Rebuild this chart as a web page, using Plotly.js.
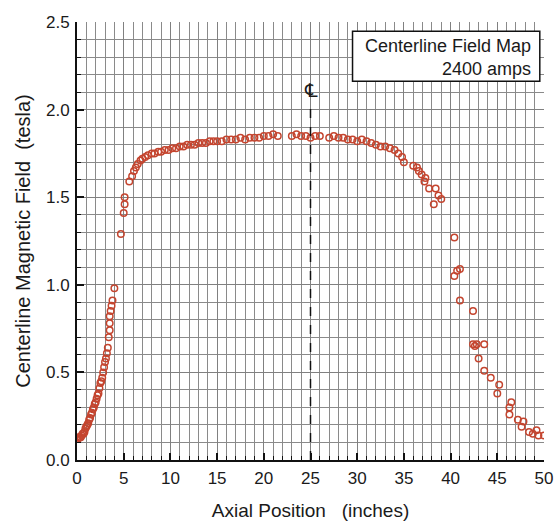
<!DOCTYPE html>
<html>
<head>
<meta charset="utf-8">
<script src="https://cdn.plot.ly/plotly-3.0.1.min.js"></script>
<style>html,body{margin:0;padding:0;background:#fff;}#chart{width:556px;height:524px;}</style>
</head>
<body>
<div id="chart"></div>
<script>
// Axial position (inches)
const axialPosition = [
  0.0,0.1,0.2,0.3,0.4,0.5,0.6,0.7,0.8,0.9,1.0,1.1,1.2,1.3,1.4,1.5,1.6,1.7,1.8,1.9,
  2.0,2.1,2.2,2.3,2.4,2.5,2.6,2.7,2.8,2.9,3.0,3.1,3.2,3.3,3.4,3.5,3.5,3.5,3.6,3.7,3.8,4.0,
  4.7,5.0,5.1,5.1,5.6,5.9,6.1,6.3,6.5,6.8,7.0,7.3,7.6,8.0,8.3,8.7,9.0,9.4,9.8,
  10.2,10.6,11.0,11.4,11.8,12.2,12.6,13.0,13.4,13.8,14.2,14.6,15.0,15.5,16.0,16.5,
  17.0,17.5,18.0,18.5,19.0,19.5,20.0,20.5,21.0,21.5,23.0,23.5,24.0,24.5,25.0,25.5,
  26.0,27.0,27.5,28.0,28.5,29.0,29.5,30.0,30.5,31.0,31.5,32.0,32.5,33.0,33.5,34.0,
  34.4,34.8,35.0,36.0,36.4,36.6,36.9,37.3,37.2,37.7,38.4,38.7,39.0,38.2,
  40.4,40.7,41.0,40.4,41.0,42.4,42.4,42.6,42.8,43.6,43.0,43.6,44.3,45.2,45.0,
  46.5,46.3,46.3,47.2,47.8,47.6,48.4,48.8,49.2,49.4,50.0
];
// Centerline magnetic field (tesla)
const fieldTesla = [
  0.12,0.12,0.13,0.13,0.13,0.14,0.15,0.15,0.16,0.18,0.19,0.20,0.21,0.23,0.24,0.26,0.27,0.29,0.30,0.32,
  0.33,0.35,0.37,0.38,0.41,0.44,0.45,0.47,0.50,0.53,0.56,0.58,0.61,0.64,0.70,0.74,0.78,0.82,0.85,0.88,0.91,0.98,
  1.29,1.41,1.46,1.50,1.59,1.62,1.65,1.67,1.69,1.71,1.72,1.73,1.74,1.75,1.75,1.76,1.76,1.77,1.77,
  1.78,1.78,1.79,1.79,1.80,1.80,1.80,1.81,1.81,1.81,1.82,1.82,1.82,1.82,1.83,1.83,
  1.83,1.84,1.83,1.84,1.84,1.84,1.85,1.85,1.86,1.85,1.85,1.86,1.85,1.85,1.84,1.85,
  1.85,1.84,1.85,1.84,1.84,1.83,1.83,1.82,1.83,1.82,1.81,1.80,1.79,1.79,1.78,1.77,
  1.75,1.73,1.70,1.68,1.67,1.65,1.63,1.61,1.59,1.55,1.55,1.51,1.49,1.46,
  1.27,1.08,1.09,1.05,0.91,0.85,0.66,0.65,0.66,0.66,0.58,0.51,0.47,0.43,0.38,
  0.33,0.30,0.26,0.23,0.22,0.19,0.16,0.15,0.17,0.14,0.14
];
const xTickVals = [0,5,10,15,20,25,30,35,40,45,50];
const yTickVals = [0.0,0.5,1.0,1.5,2.0,2.5];
const yTickText = ['0.0','0.5','1.0','1.5','2.0','2.5'];
const boxLines = ['Centerline Field Map','2400 amps'];
const centerlineX = 25;

const font = 'Arial, "Liberation Sans", Helvetica, sans-serif';

const trace = {
  x: axialPosition, y: fieldTesla, type: 'scatter', mode: 'markers',
  marker: {symbol: 'circle-open', size: 6.5, color: '#c4452f', line: {width: 1.5, color: '#c4452f'}},
  hoverinfo: 'skip'
};

const layout = {
  width: 556, height: 524,
  margin: {l: 77, r: 12, t: 22, b: 64},
  paper_bgcolor: '#fff', plot_bgcolor: '#fff',
  showlegend: false,
  font: {family: font, color: '#1a1a1a'},
  xaxis: {
    range: [0, 50], tickvals: xTickVals, ticks: 'inside', ticklen: 7, tickwidth: 2, tickcolor: '#111',
    showline: true, linecolor: '#111', linewidth: 2, zeroline: false,
    showgrid: true, gridcolor: '#808080', gridwidth: 1,
    minor: {dtick: 1, showgrid: true, gridcolor: '#8a8a8a', gridwidth: 1, ticks: 'inside', ticklen: 4, tickcolor: '#111', tickwidth: 1},
    tickfont: {size: 17, color: '#1a1a1a'}, ticklabelstandoff: 2,
    title: {text: 'Axial Position\u00a0\u00a0\u00a0(inches)', font: {size: 19, color: '#1a1a1a'}, standoff: 16}
  },
  yaxis: {
    range: [0, 2.5], tickvals: yTickVals, ticktext: yTickText, ticks: 'inside', ticklen: 7, tickwidth: 2, tickcolor: '#111',
    showline: true, linecolor: '#111', linewidth: 2, zeroline: false,
    showgrid: true, gridcolor: '#808080', gridwidth: 1,
    minor: {dtick: 0.1, showgrid: true, gridcolor: '#8a8a8a', gridwidth: 1, ticks: 'inside', ticklen: 4, tickcolor: '#111', tickwidth: 1},
    tickfont: {size: 17, color: '#1a1a1a'}, ticklabelstandoff: 2,
    title: {text: 'Centerline Magnetic Field\u00a0\u00a0(tesla)', font: {size: 20, color: '#1a1a1a'}, standoff: 10}
  },
  shapes: [
    {type: 'line', xref: 'x', yref: 'y', x0: centerlineX, x1: centerlineX, y0: 0, y1: 2.04,
     line: {color: '#111', width: 1.5, dash: 'dash'}, layer: 'above'},
    {type: 'rect', xref: 'paper', yref: 'paper', x0: 0.590, x1: 0.991, y0: 0.865, y1: 0.979,
     fillcolor: '#fff', line: {color: '#111', width: 1.5}, layer: 'above'}
  ],
  annotations: [
    {xref: 'paper', yref: 'paper', x: 0.976, y: 0.946, xanchor: 'right', yanchor: 'middle', showarrow: false,
     text: boxLines[0], font: {size: 18, color: '#1a1a1a', family: font}},
    {xref: 'paper', yref: 'paper', x: 0.976, y: 0.893, xanchor: 'right', yanchor: 'middle', showarrow: false,
     text: boxLines[1], font: {size: 18, color: '#1a1a1a', family: font}},
    {xref: 'x', yref: 'y', x: centerlineX, y: 2.11, xanchor: 'center', yanchor: 'middle', showarrow: false,
     text: '\u2104', font: {size: 19, color: '#1a1a1a', family: '"DejaVu Sans", sans-serif'}}
  ]
};

Plotly.newPlot('chart', [trace], layout, {staticPlot: true, displayModeBar: false});
</script>
</body>
</html>
